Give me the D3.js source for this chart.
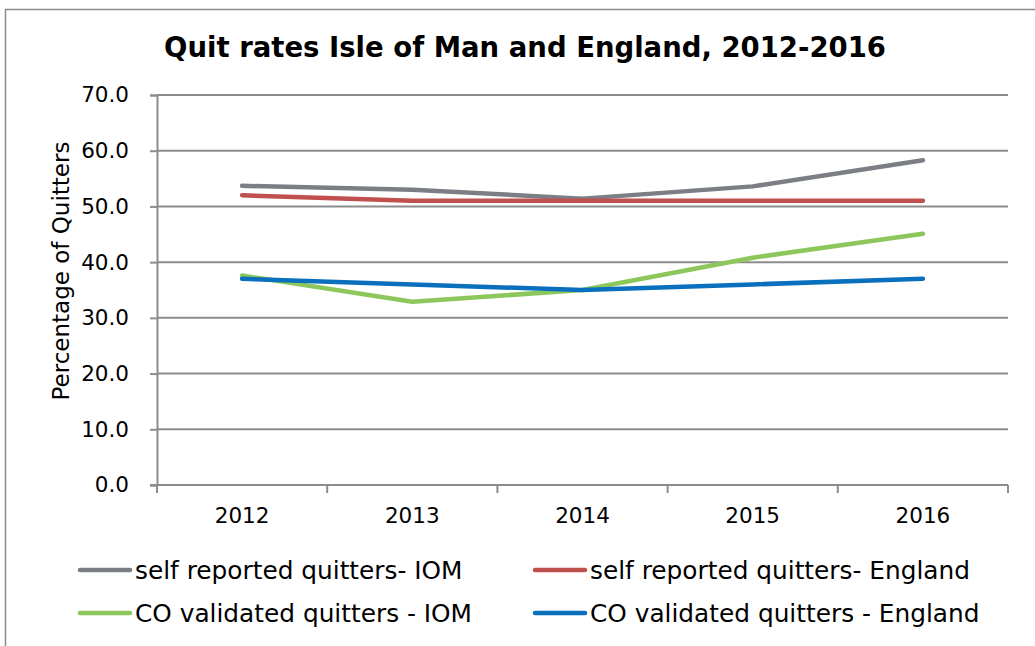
<!DOCTYPE html>
<html>
<head>
<meta charset="utf-8">
<script src="https://cdn.jsdelivr.net/npm/d3@7"></script>
<style>
  html, body { margin: 0; padding: 0; background: #fff; }
  svg { display: block; }
  text { font-family: "DejaVu Sans", Verdana, sans-serif; fill: #000; }
</style>
</head>
<body>
<svg id="chart" width="1035" height="646"></svg>
<script>
// Quit rates by year, percent of quitters
const years = ["2012", "2013", "2014", "2015", "2016"];
const selfReportedIOM = [53.7, 53.0, 51.4, 53.6, 58.3];
const selfReportedEngland = [52, 51, 51, 51, 51];
const coValidatedIOM = [37.6, 32.9, 35.0, 40.8, 45.1];
const coValidatedEngland = [37, 36, 35, 36, 37];
const yTicks = [0, 10, 20, 30, 40, 50, 60, 70];

const series = [
  { name: "self reported quitters- IOM", values: selfReportedIOM, color: "#7b7f84" },
  { name: "self reported quitters- England", values: selfReportedEngland, color: "#c0504d" },
  { name: "CO validated quitters - IOM", values: coValidatedIOM, color: "#8cc75c" },
  { name: "CO validated quitters - England", values: coValidatedEngland, color: "#0a70bd" }
];

const FONT = '"DejaVu Sans", Verdana, sans-serif';
const svg = d3.select("#chart");
const plot = { left: 157, right: 1008, top: 95, bottom: 485 };

// outer frame
svg.append("path")
  .attr("d", "M5.5,646 L5.5,9.5 L1035,9.5")
  .attr("fill", "none").attr("stroke", "#8a8a8a").attr("stroke-width", 1.5);

svg.append("text")
  .attr("x", 525).attr("y", 57)
  .attr("text-anchor", "middle")
  .attr("font-size", 27.5).attr("font-weight", "bold")
  .text("Quit rates Isle of Man and England, 2012-2016");

const x = d3.scaleBand().domain(years).range([plot.left, plot.right]);
const y = d3.scaleLinear().domain([0, 70]).range([plot.bottom, plot.top]);

// horizontal gridlines
svg.append("g")
  .selectAll("line").data(yTicks.filter(d => d > 0)).join("line")
  .attr("x1", plot.left).attr("x2", plot.right)
  .attr("y1", d => y(d)).attr("y2", d => y(d))
  .attr("stroke", "#8c8c8c").attr("stroke-width", 2);

// y axis
const yAxis = svg.append("g")
  .attr("transform", `translate(${plot.left},0)`)
  .call(d3.axisLeft(y).tickValues(yTicks).tickFormat(d3.format(".1f")).tickSize(7).tickPadding(21));
yAxis.attr("font-family", FONT);
yAxis.select(".domain").attr("stroke", "#8c8c8c").attr("stroke-width", 2);
yAxis.selectAll(".tick line").attr("stroke", "#8c8c8c").attr("stroke-width", 2);
yAxis.selectAll(".tick text").attr("font-size", 21.5).attr("fill", "#000");

// x axis with tick marks on category boundaries
const xAxisG = svg.append("g").attr("transform", `translate(0,${plot.bottom})`);
xAxisG.append("line")
  .attr("x1", plot.left - 7).attr("x2", plot.right)
  .attr("stroke", "#8c8c8c").attr("stroke-width", 2);
const bounds = years.map(d => x(d)).concat([plot.right]);
xAxisG.selectAll("line.tk").data(bounds).join("line").attr("class", "tk")
  .attr("x1", d => d).attr("x2", d => d).attr("y1", 0).attr("y2", 8)
  .attr("stroke", "#8c8c8c").attr("stroke-width", 2);
xAxisG.selectAll("text").data(years).join("text")
  .attr("x", d => x(d) + x.bandwidth() / 2).attr("y", 38)
  .attr("text-anchor", "middle").attr("font-size", 21.5)
  .text(d => d);

// axis title
svg.append("text")
  .attr("transform", "translate(69,271) rotate(-90)")
  .attr("text-anchor", "middle").attr("font-size", 23)
  .text("Percentage of Quitters");

// series lines
const line = d3.line()
  .x((d, i) => x(years[i]) + x.bandwidth() / 2)
  .y(d => y(d));
svg.append("g").selectAll("path").data(series).join("path")
  .attr("d", s => line(s.values))
  .attr("fill", "none").attr("stroke", s => s.color)
  .attr("stroke-width", 4.5).attr("stroke-linecap", "round").attr("stroke-linejoin", "round");

// legend
const legendPos = [[80, 570], [535, 570], [80, 613], [535, 613]];
const lg = svg.append("g").selectAll("g").data(series).join("g")
  .attr("transform", (d, i) => `translate(${legendPos[i][0]},${legendPos[i][1]})`);
lg.append("line").attr("x1", 0).attr("x2", 50)
  .attr("stroke", d => d.color).attr("stroke-width", 4.5).attr("stroke-linecap", "round");
lg.append("text").attr("x", 55).attr("y", 9).attr("font-size", 24.8)
  .text(d => d.name);
</script>
</body>
</html>
